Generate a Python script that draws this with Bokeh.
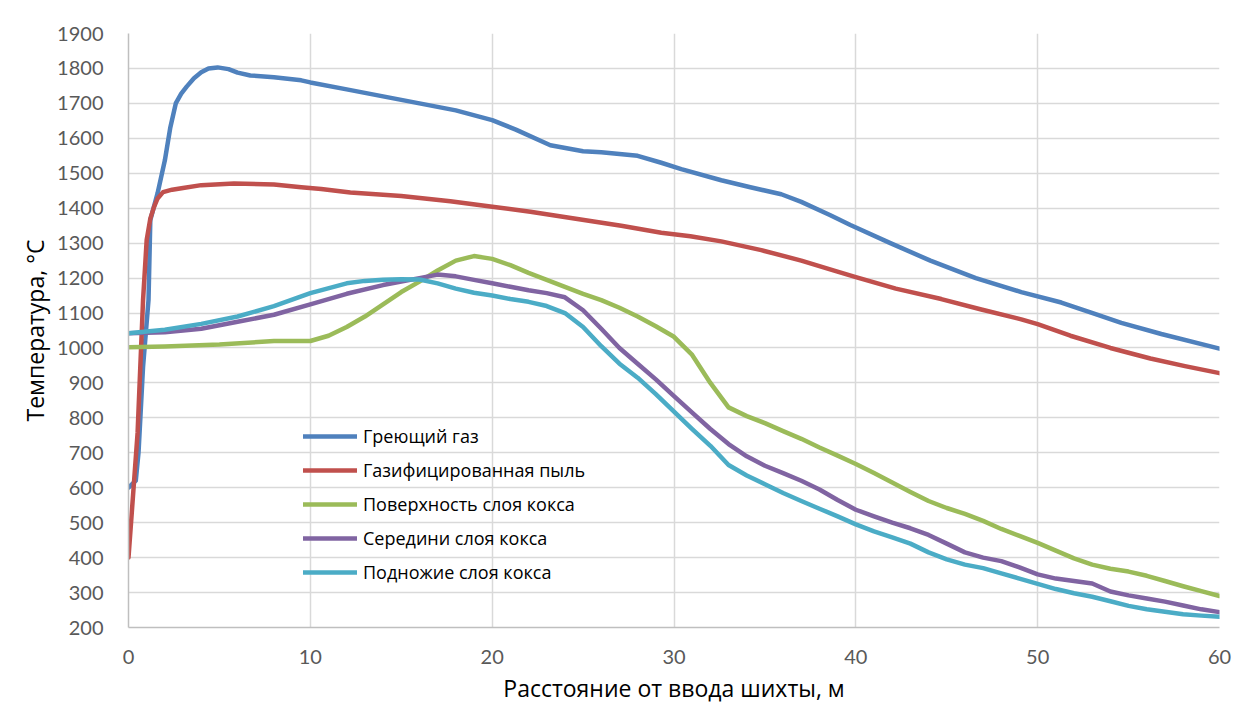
from bokeh.plotting import figure
from bokeh.models import Range1d, FixedTicker, Legend, LegendItem
from bokeh.embed import file_html
from bokeh.resources import INLINE

# ---- data ----
x_gas = [0, 0.4, 0.55, 0.8, 1.1, 1.2, 1.6, 2.0, 2.3, 2.6, 2.9, 3.2, 3.6, 4.0, 4.4, 4.9, 5.5, 6.0, 6.7, 8.0, 9.5,
         10, 12, 14, 16, 18, 20, 21.3, 23.2, 25, 26, 28, 29.3, 30.4, 32.6, 34.2, 35.9, 37, 38.6, 39.7, 41.9,
         44.1, 46.6, 49.1, 51.3, 52.9, 54.6, 56.8, 60]
y_gas = [600, 620, 700, 946, 1137, 1366, 1443, 1537, 1631, 1700, 1728, 1748, 1772, 1789, 1800, 1803, 1798,
         1788, 1780, 1775, 1766, 1760, 1740, 1720, 1700, 1680, 1652, 1625, 1580, 1563, 1560, 1550, 1530, 1512,
         1480, 1460, 1440, 1418, 1380, 1352, 1300, 1250, 1200, 1160, 1130, 1102, 1072, 1040, 998]

x_dust = [0, 0.5, 0.8, 1.0, 1.2, 1.4, 1.6, 1.9, 2.4, 3, 4, 5.8, 8, 9.5, 10.6, 12.2, 15, 17.7, 19.9, 22.1, 24.6,
          27.1, 29.3, 30.9, 32.6, 34.8, 37, 38.9, 40, 42.2, 44.7, 46.9, 49.1, 50, 51.8, 54, 56.2, 58.1, 60]
y_dust = [400, 757, 1137, 1309, 1370, 1403, 1428, 1446, 1453, 1458, 1466, 1471, 1468, 1460, 1455, 1445, 1435,
          1420, 1405, 1390, 1370, 1350, 1330, 1320, 1305, 1280, 1250, 1220, 1203, 1170, 1140, 1110, 1082, 1068,
          1035, 1000, 970, 948, 928]

x_surf = [0, 2, 5, 8, 10] + list(range(11, 61))
y_surf = [1002, 1004, 1010, 1020, 1020, 1035, 1060, 1090, 1125, 1160, 1190, 1222, 1250, 1263, 1255, 1237,
          1215, 1195, 1175, 1155, 1137, 1115, 1090, 1062, 1032, 980, 900, 830, 805, 785, 762, 740, 715, 692,
          668, 642, 615, 588, 562, 542, 525, 505, 482, 462, 442, 420, 398, 380, 368, 360, 348, 333, 318, 304, 290]

x_mid = [0, 2, 4, 6, 8, 10, 12, 14, 16, 17, 18, 19, 20, 21, 22, 23, 24] + list(range(25, 61))
y_mid = [1042, 1045, 1055, 1075, 1095, 1125, 1155, 1180, 1200, 1210, 1205, 1195, 1185, 1175, 1165, 1157, 1145,
         1108, 1055, 1000, 955, 910, 862, 815, 768, 725, 690, 663, 642, 620, 595, 565, 537, 518, 500, 484, 465,
         440, 415, 400, 390, 372, 352, 340, 333, 326, 303, 292, 283, 274, 263, 252, 244]

x_foot = [0, 2, 4, 6, 8, 10, 12, 13, 14, 15, 16, 17, 18, 19, 20, 21, 22, 23, 24] + list(range(25, 61))
y_foot = [1042, 1052, 1069, 1090, 1120, 1157, 1185, 1192, 1195, 1197, 1196, 1185, 1170, 1158, 1150, 1140, 1132,
          1120, 1100, 1060, 1005, 955, 915, 868, 818, 768, 720, 665, 635, 610, 585, 562, 540, 518, 495, 475,
          458, 440, 415, 395, 380, 370, 355, 340, 325, 310, 298, 288, 275, 262, 252, 245, 238, 234, 231]

series_names = ["Греющий газ", "Газифицированная пыль", "Поверхность слоя кокса",
                "Середини слоя кокса", "Подножие слоя кокса"]
series_colors = ["#4F81BD", "#C0504D", "#9BBB59", "#8064A2", "#4BACC6"]
x_ticks = [0, 10, 20, 30, 40, 50, 60]
y_ticks = list(range(200, 2000, 100))

# ---- figure ----
W, H = 1240, 706
p = figure(width=W, height=H, output_backend="svg", toolbar_location=None,
           x_range=Range1d(0, 60), y_range=Range1d(200, 1900))
p.min_border_left = 128
p.min_border_right = 21
p.min_border_top = 33
p.min_border_bottom = H - 628
p.outline_line_color = None
p.background_fill_color = "white"
p.border_fill_color = "white"

for ax in (p.xaxis[0], p.yaxis[0]):
    ax.axis_line_color = "#bfbfbf"
    ax.axis_line_width = 1.5
    ax.major_tick_line_color = None
    ax.minor_tick_line_color = None
    ax.major_label_text_font = "Lato"
    ax.major_label_text_font_size = "20px"
    ax.major_label_text_color = "#595959"
    ax.axis_label_text_font = "Open Sans"
    ax.axis_label_text_font_style = "normal"
    ax.axis_label_text_font_size = "23px"
    ax.axis_label_text_color = "#000000"

p.xaxis.ticker = FixedTicker(ticks=x_ticks)
p.yaxis.ticker = FixedTicker(ticks=y_ticks)
p.xaxis.major_label_standoff = 16
p.yaxis.major_label_standoff = 19
p.xaxis.axis_label = "Расстояние от ввода шихты, м"
p.yaxis.axis_label = "Температура, °C"
p.xaxis.axis_label_standoff = 5
p.yaxis.axis_label_standoff = 3

p.xgrid.ticker = FixedTicker(ticks=x_ticks)
p.ygrid.ticker = FixedTicker(ticks=y_ticks)
for g in (p.xgrid[0], p.ygrid[0]):
    g.grid_line_color = "#d9d9d9"
    g.grid_line_width = 1.5

data = [(x_gas, y_gas), (x_dust, y_dust), (x_surf, y_surf), (x_mid, y_mid), (x_foot, y_foot)]
renderers = []
for (xs, ys), c in zip(data, series_colors):
    r = p.line(xs, ys, line_color=c, line_width=4.5, line_join="round", line_cap="round")
    renderers.append(r)

legend = Legend(items=[LegendItem(label=n, renderers=[r]) for n, r in zip(series_names, renderers)],
                location=(175, 43))
legend.background_fill_alpha = 0
legend.border_line_alpha = 0
legend.padding = 0
legend.margin = 0
legend.spacing = 10
legend.glyph_width = 54
legend.glyph_height = 20
legend.label_height = 20
legend.label_standoff = 6
legend.label_text_font = "Open Sans"
legend.label_text_font_size = "18px"
legend.label_text_color = "#000000"
p.add_layout(legend)

open("out.html", "w").write(file_html(p, INLINE))
